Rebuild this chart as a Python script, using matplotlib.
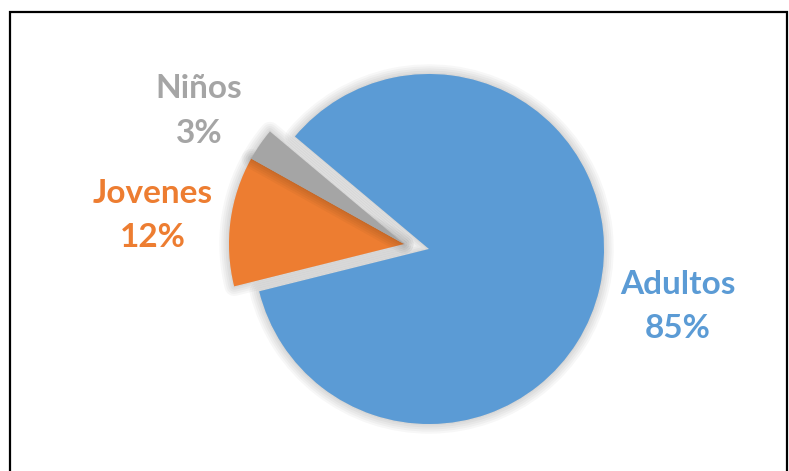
import matplotlib
matplotlib.use('Agg')
import matplotlib.pyplot as plt
import matplotlib.patheffects as pe
from matplotlib.patches import Rectangle

categorias = ['Adultos', 'Jovenes', 'Niños']
porcentajes = [85, 12, 3]
colores = ['#5B9BD5', '#ED7D31', '#A5A5A5']

W, H = 789, 471
fig = plt.figure(figsize=(W / 100, H / 100), dpi=100)
ax = fig.add_axes([0, 0, 1, 1])

# axes in pixel units so the pie sits where it should
centro = (429, H - 249)
wedges, _ = ax.pie(porcentajes, colors=colores, startangle=140, counterclock=False,
                   center=centro, radius=175, wedgeprops=dict(linewidth=0))
ax.set_xlim(0, W)
ax.set_ylim(0, H)
ax.set_aspect('equal')
ax.axis('off')

# Jovenes and Niños are pulled out together
for w in wedges[1:]:
    w.set_center((centro[0] - 25, centro[1] + 5))

# soft shadow round every slice (round joins, no miter spikes at the tips)
glow = [pe.Stroke(linewidth=lw, foreground='black', alpha=0.03, joinstyle='round')
        for lw in (14, 11, 8, 5, 2)]
glow.append(pe.Normal())
for w in wedges:
    w.set_path_effects(glow)

# labels: (x centre, baseline of name, baseline of percent)
pos_etiquetas = [(678, 294, 338), (153, 203, 247), (199, 98, 143)]
for nombre, pct, col, (x, y1, y2) in zip(categorias, porcentajes, colores, pos_etiquetas):
    kw = dict(ha='center', va='baseline', fontsize=24, fontweight='bold',
              family='Lato', color=col)
    ax.text(x, H - y1, nombre, **kw)
    ax.text(x, H - y2, f'{pct}%', **kw)

# chart border (runs off the bottom)
fig.patches.append(Rectangle((10 / W, -0.1), 777 / W, (H - 12) / H + 0.1,
                             transform=fig.transFigure, fill=False, lw=1.6, ec='black'))

fig.savefig('out.png', dpi=100, facecolor='white')
